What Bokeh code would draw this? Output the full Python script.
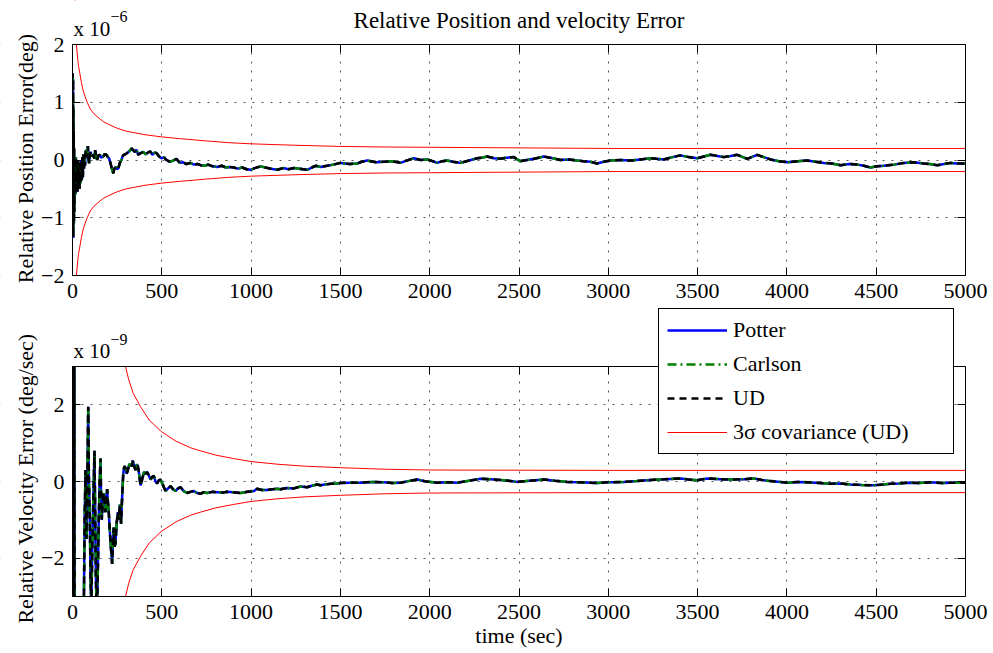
import math
from bokeh.plotting import figure
from bokeh.models import (Range1d, LinearAxis, FixedTicker, Label, Legend,
                          LegendItem, Grid, BoxAnnotation)
from bokeh.layouts import column
from bokeh.embed import file_html
from bokeh.resources import INLINE

FONT = "Liberation Serif"

# ---------------- data ----------------
x_ticks = [0, 500, 1000, 1500, 2000, 2500, 3000, 3500, 4000, 4500, 5000]
pos_ticks = [-2, -1, 0, 1, 2]
vel_ticks = [-2, 0, 2]

# relative position error, units of 1e-6 deg
t_pos = [0, 1, 2, 3, 4, 5, 6, 7, 8, 9,
         10, 13, 16, 19, 22, 25, 28, 31, 34, 37,
         40, 43, 46, 49, 52, 55, 58, 61, 64, 67,
         70, 74, 78, 82, 86, 90, 93, 97, 101, 108,
         116, 122, 127, 133, 138, 145, 153, 160, 172, 180,
         190, 198, 205, 212, 218, 223, 228, 235, 243, 250,
         257, 265, 274, 280, 287, 296, 306, 318, 330, 340,
         349, 358, 368, 382, 396, 410, 423, 435, 448, 460,
         470, 485, 498, 512, 526, 545, 563, 582, 601, 620,
         638, 660, 680, 700, 717, 740, 760, 785, 810, 835,
         860, 880, 903, 925, 950, 975, 997, 1020, 1053, 1080,
         1110, 1146, 1180, 1210, 1239, 1270, 1314, 1340, 1361, 1390,
         1426, 1460, 1500, 1550, 1594, 1620, 1650, 1700, 1743, 1790,
         1837, 1870, 1911, 1950, 1986, 2015, 2042, 2070, 2098, 2130,
         2172, 2220, 2266, 2290, 2322, 2360, 2396, 2430, 2471, 2490,
         2508, 2545, 2583, 2610, 2639, 2690, 2732, 2780, 2826, 2860,
         2900, 2937, 2975, 3012, 3070, 3124, 3180, 3236, 3270, 3311,
         3360, 3404, 3450, 3498, 3535, 3572, 3610, 3647, 3685, 3722,
         3778, 3834, 3870, 3908, 3955, 4002, 4060, 4114, 4160, 4207,
         4250, 4300, 4350, 4394, 4430, 4468, 4505, 4543, 4600, 4655,
         4710, 4767, 4800, 4842, 4880, 4916, 4950, 5000]
pos_err = [0.0, 1.5, -1.3, 1.4, -1.35, 0.9, -1.0, 0.5, -1.1, 0.2,
           -0.9, -0.3, -0.6, 0.05, -0.5, -0.1, -0.55, 0.0, -0.45, -0.05,
           -0.5, -0.1, -0.4, 0.0, -0.35, 0.05, -0.3, 0.1, -0.15, 0.1,
           -0.1, 0.15, 0.17, 0.05, 0.24, 0.02, -0.06, 0.1, 0.14, 0.06,
           0.09, 0.03, 0.17, 0.05, 0.0, 0.08, 0.09, 0.04, 0.06, 0.1,
           0.09, 0.05, 0.03, -0.05, -0.12, -0.18, -0.23, -0.15, -0.12, -0.16,
           -0.14, -0.05, 0.0, 0.06, 0.09, 0.1, 0.12, 0.15, 0.2, 0.17,
           0.14, 0.18, 0.09, 0.12, 0.14, 0.1, 0.13, 0.15, 0.09, 0.13,
           0.12, 0.06, 0.03, 0.05, 0.0, -0.03, -0.01, 0.02, -0.05, -0.04,
           -0.07, -0.05, -0.08, -0.07, -0.09, -0.1, -0.08, -0.11, -0.12, -0.1,
           -0.13, -0.12, -0.13, -0.15, -0.13, -0.16, -0.17, -0.14, -0.11, -0.13,
           -0.15, -0.17, -0.14, -0.16, -0.14, -0.15, -0.17, -0.13, -0.1, -0.12,
           -0.1, -0.08, -0.05, -0.07, -0.06, -0.03, -0.01, -0.04, -0.03, -0.02,
           -0.05, -0.01, 0.03, 0.0, 0.01, -0.02, -0.05, -0.02, -0.01, -0.03,
           -0.05, -0.01, 0.03, 0.04, 0.06, 0.03, 0.02, 0.04, 0.05, 0.01,
           -0.02, 0.0, 0.02, 0.04, 0.06, 0.03, 0.0, 0.01, -0.01, -0.02,
           -0.03, -0.06, -0.03, -0.01, 0.0, -0.01, 0.01, 0.03, 0.02, 0.01,
           0.05, 0.08, 0.05, 0.03, 0.06, 0.09, 0.07, 0.05, 0.07, 0.09,
           0.02, 0.09, 0.05, 0.01, -0.02, -0.04, -0.02, -0.01, -0.03, -0.05,
           -0.06, -0.09, -0.07, -0.08, -0.1, -0.13, -0.11, -0.1, -0.08, -0.05,
           -0.04, -0.06, -0.07, -0.09, -0.07, -0.05, -0.06, -0.06]

# relative velocity error, units of 1e-9 deg/sec
t_vel = [0, 1, 2, 3, 4, 5, 6, 7, 8, 10,
         12, 15, 25, 40, 55, 63, 68, 73, 78, 82,
         88, 92, 97, 101, 105, 110, 114, 118, 123, 127,
         131, 135, 140, 147, 152, 157, 160, 164, 170, 175,
         180, 184, 190, 194, 198, 203, 208, 213, 218, 222,
         227, 231, 236, 241, 247, 254, 259, 265, 272, 278,
         284, 290, 297, 303, 310, 318, 325, 332, 338, 345,
         353, 360, 366, 373, 381, 390, 400, 410, 418, 428,
         437, 446, 455, 465, 474, 483, 493, 507, 521, 535,
         549, 563, 577, 591, 605, 623, 642, 660, 679, 698,
         717, 735, 754, 782, 810, 838, 866, 900, 941, 980,
         1016, 1034, 1060, 1090, 1120, 1146, 1165, 1200, 1239, 1277,
         1314, 1340, 1370, 1389, 1420, 1450, 1482, 1500, 1550, 1613,
         1680, 1743, 1790, 1837, 1880, 1930, 1980, 2042, 2100, 2154,
         2220, 2284, 2340, 2396, 2440, 2489, 2560, 2639, 2700, 2770,
         2840, 2900, 2937, 3000, 3087, 3160, 3236, 3320, 3404, 3450,
         3498, 3554, 3630, 3703, 3760, 3815, 3860, 3908, 4002, 4060,
         4114, 4180, 4244, 4300, 4356, 4420, 4487, 4540, 4580, 4630,
         4673, 4740, 4804, 4870, 4930, 4990, 5000]
vel_err = [0.0, 4.5, -4.5, 4.5, -4.5, 4.0, -4.5, 3.5, -4.5, 3.0,
           -4.5, -4.0, -4.5, -4.2, -4.5, -3.5, -1.0, 0.3, -1.5, -0.5,
           1.95, 0.0, -1.0, -2.5, -3.3, -2.0, -1.0, -0.2, 0.8, -0.8,
           -2.5, -3.4, -2.8, -1.0, 0.0, 0.6, -0.4, -1.0, -0.5, -0.3,
           -0.6, -0.8, -0.4, -0.2, -0.5, -0.8, -1.2, -1.6, -1.9, -2.15,
           -1.5, -1.2, -1.7, -1.6, -1.1, -0.8, -1.0, -0.6, -1.1, -0.4,
           0.2, 0.4, 0.35, 0.2, 0.3, 0.45, 0.45, 0.4, 0.55, 0.4,
           0.3, 0.45, 0.4, 0.2, -0.1, 0.05, 0.25, 0.2, 0.25, 0.15,
           0.05, 0.12, 0.15, 0.0, -0.05, 0.03, 0.05, -0.1, -0.25, -0.18,
           -0.12, -0.2, -0.25, -0.18, -0.15, -0.25, -0.3, -0.27, -0.25, -0.3,
           -0.32, -0.28, -0.3, -0.27, -0.28, -0.29, -0.27, -0.28, -0.3, -0.27,
           -0.25, -0.19, -0.22, -0.22, -0.2, -0.19, -0.2, -0.17, -0.18, -0.13,
           -0.15, -0.11, -0.08, -0.1, -0.07, -0.06, -0.05, -0.04, -0.03, -0.03,
           -0.01, -0.02, -0.04, -0.03, 0.01, 0.05, 0.0, -0.03, -0.02, -0.03,
           0.02, 0.07, 0.06, 0.04, 0.02, -0.01, 0.02, 0.05, 0.02, -0.01,
           -0.02, -0.03, -0.04, -0.02, -0.01, 0.01, 0.04, 0.06, 0.08, 0.05,
           0.03, 0.08, 0.06, 0.05, 0.06, 0.08, 0.04, 0.01, -0.03, -0.01,
           -0.02, -0.04, -0.06, -0.05, -0.08, -0.09, -0.1, -0.08, -0.06, -0.05,
           -0.03, -0.04, -0.02, -0.04, -0.03, -0.03, -0.03]

# 3-sigma covariance (UD) envelopes
t_env_pos = [12, 16, 22, 28, 34, 41, 50, 60, 70, 85,
             100, 120, 150, 175, 200, 250, 300, 350, 400, 450,
             500, 600, 750, 875, 1000, 1250, 1500, 1750, 2000, 2500,
             3000, 3500, 4000, 4500, 5000]
env_pos = [3.2, 2.5, 2.0, 1.78, 1.62, 1.5, 1.34, 1.2, 1.1, 0.98,
           0.88, 0.8, 0.72, 0.66, 0.62, 0.55, 0.5, 0.47, 0.44, 0.42,
           0.4, 0.37, 0.33, 0.3, 0.28, 0.255, 0.235, 0.225, 0.22, 0.21,
           0.2, 0.2, 0.2, 0.2, 0.2]
t_env_vel = [260, 280, 297, 315, 340, 381, 430, 498, 580, 661,
             717, 800, 900, 1000, 1150, 1300, 1500, 1750, 2000, 2500,
             3000, 4000, 5000]
env_vel = [3.9, 3.4, 3.0, 2.65, 2.3, 1.95, 1.6, 1.3, 1.05, 0.88,
           0.8, 0.69, 0.6, 0.52, 0.45, 0.4, 0.36, 0.32, 0.3, 0.295,
           0.29, 0.29, 0.29]

series_names = ["Potter", "Carlson", "UD", "3\u03c3 covariance (UD)"]

MINUS = "\u2212"

# ---------------- layout (pixels) ----------------
W = 993
PX_L, PX_R = 72, 965          # plot box left / right
H1, H2 = 306, 347             # canvas heights of the two figures
X_PER_PX = 5000 / (PX_R - PX_L)
LBL_DY = 7                    # label anchor correction (px)


def fmt(v):
    return (MINUS + str(abs(v))) if v < 0 else str(v)


def make_fig(height, y0, y1, box_top, box_bot, yticks):
    """Frame = whole canvas; the plot box lies from box_top..box_bot px."""
    upp = (y1 - y0) / (box_bot - box_top)
    yr = Range1d(y0 - (height - box_bot) * upp, y1 + box_top * upp)
    xr = Range1d(-PX_L * X_PER_PX, 5000 + (W - PX_R) * X_PER_PX)
    p = figure(width=W, height=height, x_range=xr, y_range=yr,
               output_backend="svg", toolbar_location=None,
               x_axis_location=None, y_axis_location=None,
               min_border=0, min_border_left=0, min_border_right=0,
               min_border_top=0, min_border_bottom=0,
               background_fill_color="white", border_fill_color="white")
    p.outline_line_color = None
    for g in p.grid:
        g.visible = False
    xt = FixedTicker(ticks=x_ticks)
    yt = FixedTicker(ticks=yticks)
    p.add_layout(Grid(dimension=0, ticker=xt, grid_line_color="#555555",
                      grid_line_dash="2 7", grid_line_width=1))
    p.add_layout(Grid(dimension=1, ticker=yt, grid_line_color="#555555",
                      grid_line_dash="2 7", grid_line_width=1))
    common = dict(major_tick_in=8, major_tick_out=0, minor_tick_line_color=None,
                  axis_line_color="black", major_tick_line_color="black",
                  major_label_text_font=FONT, major_label_text_font_size="22px",
                  major_label_text_color="black")
    p.add_layout(LinearAxis(ticker=xt, fixed_location=y0, bounds=(0, 5000),
                            major_label_overrides={v: str(v) for v in x_ticks},
                            major_label_standoff=8, **common), "below")
    p.add_layout(LinearAxis(ticker=xt, fixed_location=y1, bounds=(0, 5000),
                            major_label_overrides={v: "" for v in x_ticks},
                            major_label_standoff=0, **common), "above")
    p.add_layout(LinearAxis(ticker=yt, fixed_location=0, bounds=(y0, y1),
                            major_label_overrides={v: fmt(v) for v in yticks},
                            major_label_standoff=8, **common), "left")
    p.add_layout(LinearAxis(ticker=yt, fixed_location=5000, bounds=(y0, y1),
                            major_label_overrides={v: "" for v in yticks},
                            major_label_standoff=0, **common), "right")
    return p, (y0, y1)


def add_series(p, t, v, te, ve, lims):
    r1 = p.line(t, v, line_color="#0000ff", line_width=2.5)
    r2 = p.line(t, v, line_color="#008000", line_width=2.5,
                line_dash="9 4 2 4")
    r3 = p.line(t, v, line_color="black", line_width=2.5, line_dash="7 5")
    r4 = p.line(te, ve, line_color="#ff0000", line_width=1)
    p.line(te, [-a for a in ve], line_color="#ff0000", line_width=1)
    # white masks outside the plot box (clip the curves to the box)
    y0, y1 = lims
    style = dict(fill_color="white", fill_alpha=1.0, line_color=None,
                 level="glyph")
    for kw in (dict(bottom=y1), dict(top=y0), dict(right=0),
               dict(left=5000)):
        p.renderers.append(BoxAnnotation(**kw, **style))
    return [r1, r2, r3, r4]


def lab(p, height, x, y_canvas, text, size="22px", align="left",
        angle=0.0):
    if angle:
        x = x - LBL_DY
    else:
        y_canvas = y_canvas - LBL_DY
    p.add_layout(Label(x=x, y=height - y_canvas, x_units="screen",
                       y_units="screen", text=text, text_font=FONT,
                       text_font_size=size, text_align=align,
                       text_baseline="alphabetic", text_color="black",
                       angle=angle))


# ---------------- top panel (canvas 0..306, box 44..275) ----------------
p1, lim1 = make_fig(H1, -2, 2, 44, 275, pos_ticks)
add_series(p1, t_pos, pos_err, t_env_pos, env_pos, lim1)
lab(p1, H1, 518.5, 27, "Relative Position and velocity Error", size="23px",
    align="center")
lab(p1, H1, 73, 35, "x 10", size="21px")
lab(p1, H1, 110, 23, MINUS + "6", size="16px")
lab(p1, H1, 32, 158, "Relative Position Error(deg)", align="center",
    angle=math.pi / 2)

# ---------------- bottom panel (canvas 306..653, box 366..596) ----------
OFF = H1
p2, lim2 = make_fig(H2, -3, 3, 366 - OFF, 596 - OFF, vel_ticks)
rs = add_series(p2, t_vel, vel_err, t_env_vel, env_vel, lim2)
lab(p2, H2, 73, 357 - OFF, "x 10", size="21px")
lab(p2, H2, 110, 346 - OFF, MINUS + "9", size="16px")
lab(p2, H2, 32, 478 - OFF, "Relative Velocity Error (deg/sec)",
    align="center", angle=math.pi / 2)
lab(p2, H2, 518.5, 642 - OFF, "time (sec)", align="center")

legend = Legend(items=[LegendItem(label=n, renderers=[r])
                       for n, r in zip(series_names, rs)],
                location=(658, H2 - (454 - OFF)), label_text_font=FONT,
                label_text_font_size="22px", label_text_color="black",
                label_height=20,
                glyph_height=20, glyph_width=60, spacing=8, padding=8,
                label_standoff=6, label_width=212, margin=0,
                border_line_color="black", border_line_width=1,
                border_line_alpha=1.0,
                background_fill_color="white", background_fill_alpha=1.0)
p2.add_layout(legend)

page = column(p1, p2, spacing=0)
open("out.html", "w").write(file_html(page, INLINE))
